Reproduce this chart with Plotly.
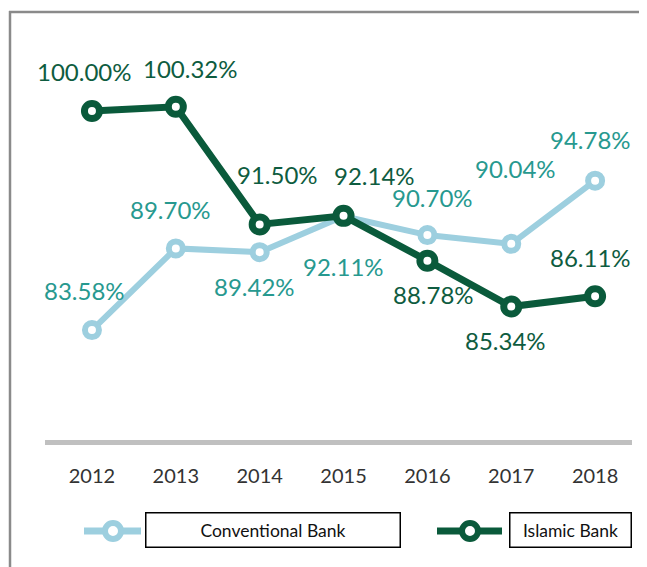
import plotly.graph_objects as go

years = ["2012", "2013", "2014", "2015", "2016", "2017", "2018"]
conventional = [83.58, 89.70, 89.42, 92.11, 90.70, 90.04, 94.78]
islamic = [100.00, 100.32, 91.50, 92.14, 88.78, 85.34, 86.11]
series_names = ["Conventional Bank", "Islamic Bank"]

# label offsets (pixels) - style only
conv_off = [(-7, 40), (-5, 39), (-5, -34), (0, -50), (5, 38), (4, 75), (-5, 41)]
isl_off = [(-7, 39), (15, 38), (18, 50), (31, 40), (6, -34), (-6, -34), (-5, 39)]

C_LINE = "#9dcfdf"
C_TXT = "#27998f"
I_LINE = "#0a5a3b"
I_TXT = "#0e5c40"

OFF = 8  # page body margin
W, H = 647 - OFF, 567 - OFF
L, T = 45 - OFF, 30 - OFF
PW, PH = 587, 410
R, B = W - L - PW, H - T - PH

def px(xp):
    return (xp - OFF - L) / PW

def py(yp):
    return (T + PH - (yp - OFF)) / PH

fig = go.Figure()
fig.add_trace(go.Scatter(
    x=years, y=conventional, mode="lines+markers", name=series_names[0],
    line=dict(color=C_LINE, width=6),
    marker=dict(size=14, color="white", line=dict(color=C_LINE, width=6)),
    cliponaxis=False, showlegend=False, hoverinfo="skip"))
fig.add_trace(go.Scatter(
    x=years, y=islamic, mode="lines+markers", name=series_names[1],
    line=dict(color=I_LINE, width=7),
    marker=dict(size=15, color="white", line=dict(color=I_LINE, width=7)),
    cliponaxis=False, showlegend=False, hoverinfo="skip"))

anns = []
for i, (v, (dx, dy)) in enumerate(zip(conventional, conv_off)):
    anns.append(dict(x=i, y=v, xref="x", yref="y", text=f"{v:.2f}%", showarrow=False,
                     xanchor="center", yanchor="middle",
                     xshift=dx, yshift=dy, font=dict(family="Lato", size=24, color=C_TXT)))
for i, (v, (dx, dy)) in enumerate(zip(islamic, isl_off)):
    anns.append(dict(x=i, y=v, xref="x", yref="y", text=f"{v:.2f}%", showarrow=False,
                     xanchor="center", yanchor="middle",
                     xshift=dx, yshift=dy, font=dict(family="Lato", size=24, color=I_TXT)))

# legend text boxes
for name, (x0, x1) in zip(series_names, [(145, 400), (509, 631)]):
    anns.append(dict(x=px((x0 + x1) / 2), y=py(529.5), xref="paper", yref="paper", text=name,
                     showarrow=False, xanchor="center", yanchor="middle",
                     width=x1 - x0 - 2, height=33, borderpad=0, bordercolor="black",
                     borderwidth=1.5, bgcolor="white", align="center", valign="middle",
                     font=dict(family="Lato", size=17.5, color="#111")))

shapes = []
# outer frame (top and left edges only are visible)
FR = dict(color="#8a8a8a", width=2.5)
shapes.append(dict(type="line", xref="paper", yref="paper", x0=px(9), x1=px(660),
                   y0=py(12), y1=py(12), line=FR, layer="below"))
shapes.append(dict(type="line", xref="paper", yref="paper", x0=px(10), x1=px(10),
                   y0=py(11), y1=py(600), line=FR, layer="below"))
# legend symbols
for (x0, x1, cx), col in [((84, 141, 113), C_LINE), ((437, 502, 470), I_LINE)]:
    shapes.append(dict(type="line", xref="paper", yref="paper", x0=px(x0), x1=px(x1),
                       y0=py(531), y1=py(531), line=dict(color=col, width=7)))
    shapes.append(dict(type="circle", xref="paper", yref="paper",
                       xsizemode="pixel", ysizemode="pixel",
                       xanchor=px(cx), yanchor=py(531), x0=-8, x1=8, y0=-8, y1=8,
                       line=dict(color=col, width=6), fillcolor="white"))

fig.update_layout(
    width=W, height=H, margin=dict(l=L, r=R, t=T, b=B),
    paper_bgcolor="white", plot_bgcolor="white",
    annotations=anns, shapes=shapes,
    xaxis=dict(type="category", range=[-0.56, 6.44], showgrid=False, zeroline=False,
               showline=True, linecolor="#c0c0c0", linewidth=5, ticks="",
               ticklabelstandoff=14,
               tickfont=dict(family="Lato", size=20, color="#333333")),
    yaxis=dict(range=[75.34, 106.07], visible=False, showgrid=False, zeroline=False),
)

fig.write_html("out.html")
